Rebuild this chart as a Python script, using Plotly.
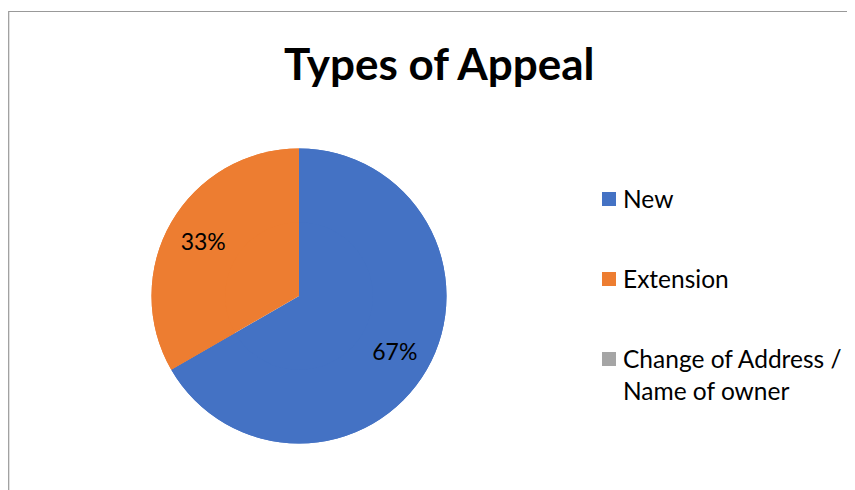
import textwrap
import plotly.graph_objects as go

# ---- data ----
title_text = "Types of Appeal"
labels = ["New", "Extension", "Change of Address / Name of owner"]
values = [2, 1, 0]
colors = ["#4472C4", "#ED7D31", "#A5A5A5"]

W, H = 855, 490      # window
OFF = 8              # page body margin
FW, FH = W - OFF, H - OFF
FONT = "Lato"

def px(x):
    return (x - OFF) / FW

def py(y):
    return 1 - (y - OFF) / FH

pie_domain = dict(x=[px(151.5), px(446.5)], y=[py(443.5), py(148.5)])

fig = go.Figure()
# full disc underneath
fig.add_trace(go.Pie(
    labels=labels, values=values,
    marker=dict(colors=colors, line=dict(width=0)),
    sort=False, direction="clockwise", rotation=0,
    textinfo="none", domain=pie_domain, showlegend=False,
    hoverinfo="skip",
))
# ring on top carrying the percentage labels at ~3/4 radius
fig.add_trace(go.Pie(
    labels=labels, values=values,
    marker=dict(colors=colors, line=dict(width=0)),
    sort=False, direction="clockwise", rotation=0, hole=0.5,
    texttemplate="%{percent:.0%}",
    textposition="inside",
    insidetextorientation="horizontal",
    textfont=dict(family=FONT, size=23, color="#000000"),
    domain=pie_domain, showlegend=False,
    hoverinfo="label+percent",
))

annotations = [dict(
    text="<b>" + title_text + "</b>", x=px(439), y=py(63), xref="paper", yref="paper",
    xanchor="center", yanchor="middle", showarrow=False,
    font=dict(family=FONT, size=44, color="#000000"),
)]
shapes = [
    dict(type="rect", xref="paper", yref="paper",
         x0=px(8.7), x1=px(W + 30), y0=py(H + 30), y1=py(11.5),
         line=dict(color="#999999", width=1.2), fillcolor="rgba(0,0,0,0)", layer="below"),
]
legend_top = 199
legend_step = 80
for i, (lab, col) in enumerate(zip(labels, colors)):
    yc = legend_top + i * legend_step
    shapes.append(dict(type="rect", xref="paper", yref="paper",
                       x0=px(602), x1=px(616), y0=py(yc + 7), y1=py(yc - 7),
                       fillcolor=col, line=dict(width=0)))
    lines = textwrap.wrap(lab, 19)
    annotations.append(dict(
        text="<br>".join(lines), x=px(621), y=py(yc - 17.5), xref="paper", yref="paper",
        xanchor="left", yanchor="top", align="left", showarrow=False,
        font=dict(family=FONT, size=24.5, color="#000000"),
    ))

fig.update_layout(
    width=FW, height=FH,
    margin=dict(l=0, r=0, t=0, b=0),
    paper_bgcolor="#FFFFFF",
    plot_bgcolor="#FFFFFF",
    annotations=annotations,
    shapes=shapes,
)

fig.write_html("out.html")
